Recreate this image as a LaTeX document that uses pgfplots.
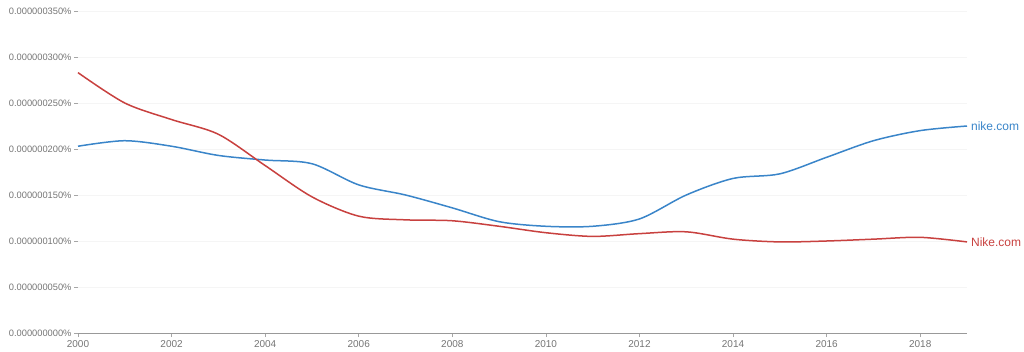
\documentclass[border=0pt]{standalone}
\usepackage{pgfplots}
\pgfplotsset{compat=1.18}
\usepackage{fontspec}
\setmainfont{Liberation Sans}
\definecolor{nblue}{HTML}{3A85C9}
\definecolor{nred}{HTML}{C8413F}
\definecolor{tgrey}{HTML}{757575}
\begin{document}
\begin{tikzpicture}[x=1pt,y=1pt]
\useasboundingbox (0,0) rectangle (1024,351);
\begin{axis}[
  at={(78pt,18pt)}, anchor=south west,
  scale only axis, width=889pt, height=322pt,
  xmin=2000, xmax=2019, ymin=0, ymax=350,
  axis x line*=bottom, axis y line*=left,
  x axis line style={draw=black!40, line width=0.8pt},
  y axis line style={draw=none},
  xtick={2000,2002,...,2018},
  ytick={0,50,...,350},
  yticklabels={0.000000000\%,0.000000050\%,0.000000100\%,0.000000150\%,0.000000200\%,0.000000250\%,0.000000300\%,0.000000350\%},
  /pgf/number format/1000 sep={},
  /pgf/number format/assume math mode=true,
  tick align=outside, major tick length=4pt,
  tick style={draw=black!35, line width=0.6pt},
  ymajorgrids, grid style={draw=black!4, line width=0.6pt},
  ticklabel style={text=tgrey},
  yticklabel style={font=\fontsize{9.3}{11}\selectfont, xshift=1pt},
  xticklabel style={font=\fontsize{10}{12}\selectfont},
  clip=false,
]
\addplot[nblue, line width=1.5pt, smooth, tension=0.5] coordinates {
(2000,203) (2001,209) (2002,203) (2003,193) (2004,188) (2005,184) (2006,161)
(2007,150) (2008,136) (2009,121) (2010,116) (2011,116) (2012,124) (2013,150)
(2014,168) (2015,173) (2016,191) (2017,209) (2018,220) (2019,225)
} node[pos=1, anchor=west, xshift=0pt, font=\fontsize{12}{14}\selectfont, text=nblue] {nike.com};
\addplot[nred, line width=1.5pt, smooth, tension=0.5] coordinates {
(2000,283) (2001,250) (2002,232) (2003,216) (2004,182) (2005,148) (2006,127)
(2007,123) (2008,122) (2009,116) (2010,109) (2011,105) (2012,108) (2013,110)
(2014,102) (2015,99) (2016,100) (2017,102) (2018,104) (2019,99)
} node[pos=1, anchor=west, xshift=0pt, font=\fontsize{12}{14}\selectfont, text=nred] {Nike.com};
\end{axis}
\end{tikzpicture}
\end{document}
